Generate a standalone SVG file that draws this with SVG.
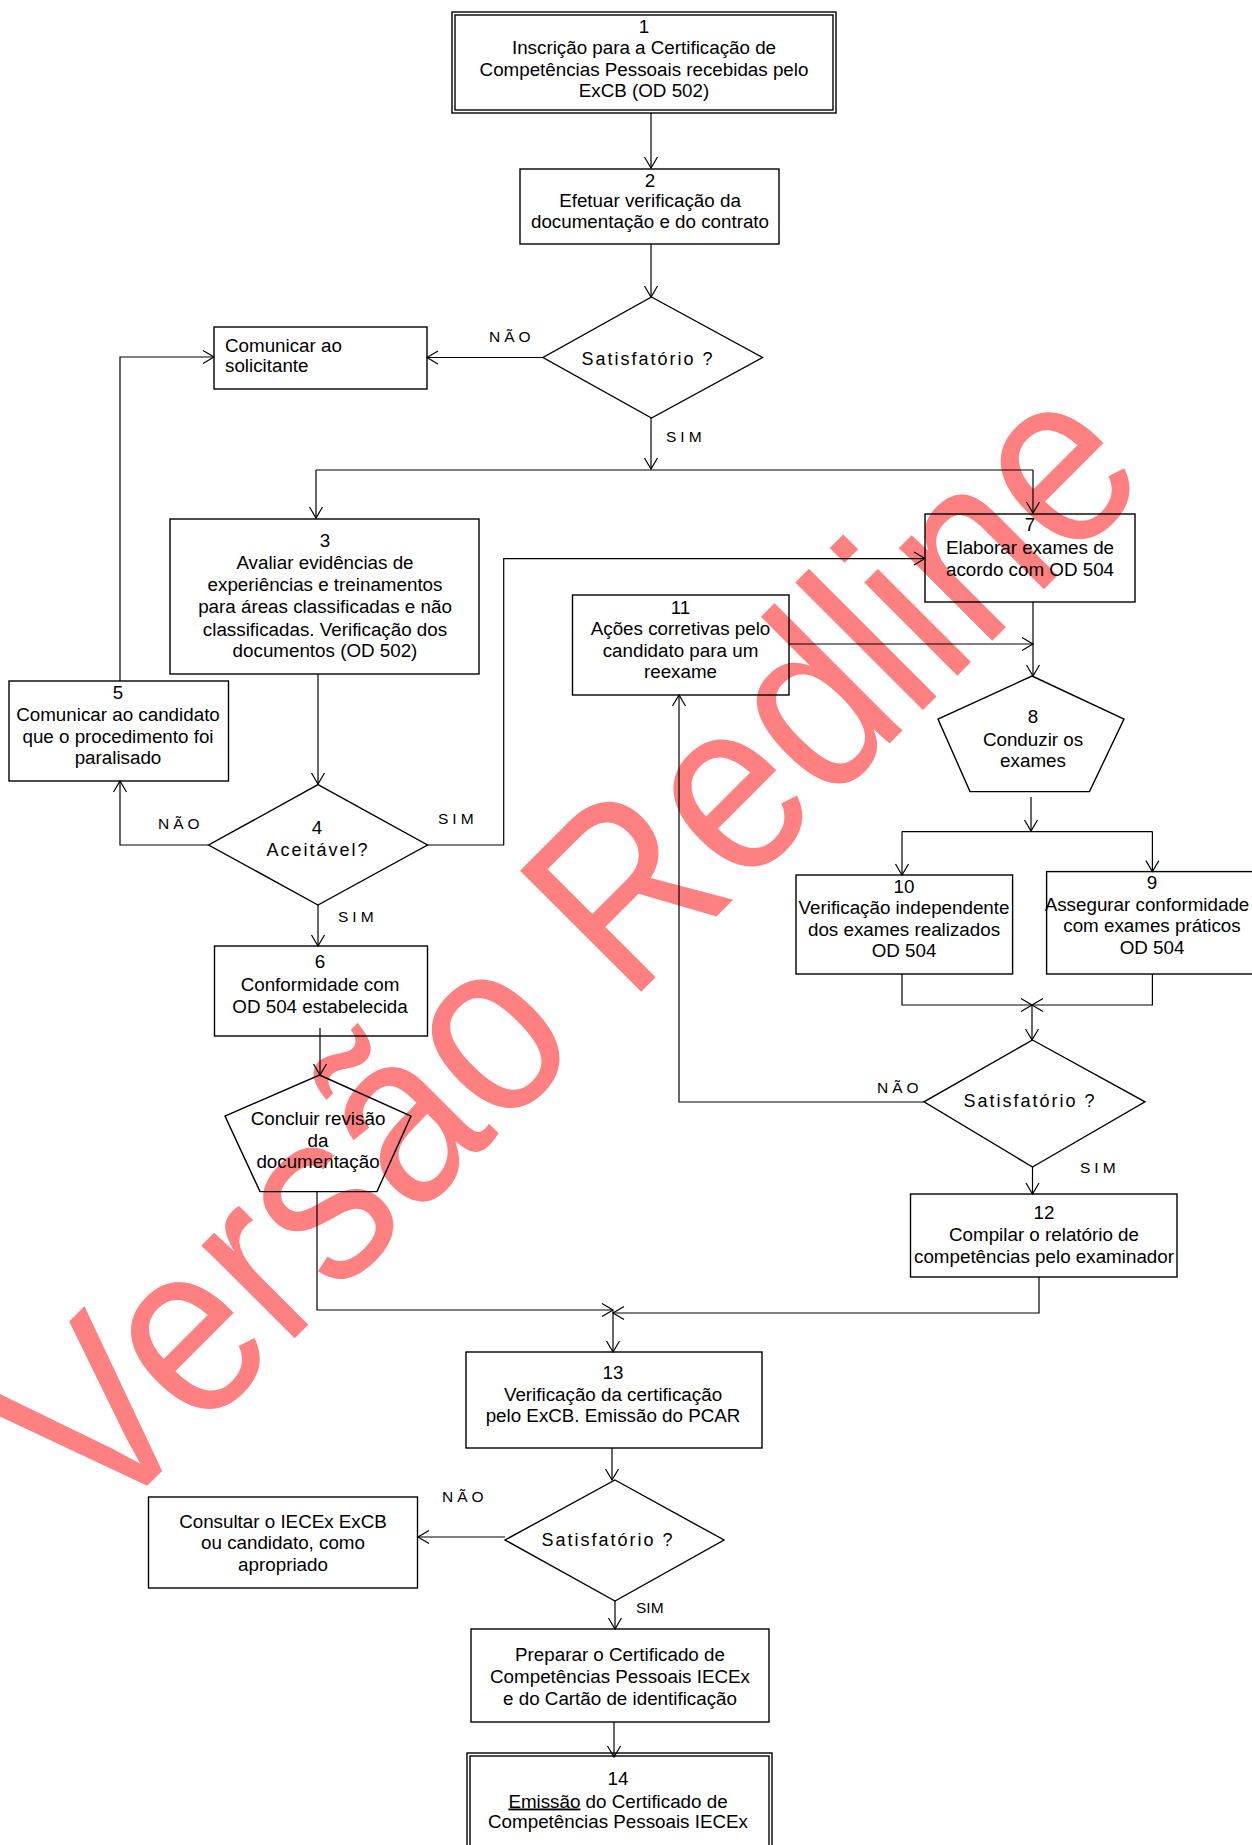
<svg xmlns="http://www.w3.org/2000/svg" width="1252" height="1845" viewBox="0 0 1252 1845">
<style>
.b{fill:none;stroke:#000;stroke-width:1.4}
.l{fill:none;stroke:#000;stroke-width:1.2}
text{font-family:"Liberation Sans",Arial,sans-serif;fill:#000}
.t{font-size:18.8px;text-anchor:middle}
.q{font-size:18px;letter-spacing:2px;text-anchor:middle}
.lb{font-size:15.5px;letter-spacing:4px}
.wm{font-size:249px;fill:#FF8080}
</style>
<defs>
<marker id="a" markerWidth="13" markerHeight="15" refX="11" refY="7" orient="auto" markerUnits="userSpaceOnUse" overflow="visible">
<path d="M0,0.5 L11,7 L0,13.5" fill="none" stroke="#000" stroke-width="1.2"/>
</marker>
</defs>
<rect width="1252" height="1845" fill="#fff"/>
<text class="wm" transform="translate(103,1530) rotate(-45) scale(0.88,1)">Versão Redline</text>

<g id="connectors" class="l">
<path class="l" d="M651,113 V168" marker-end="url(#a)"/>
<path class="l" d="M651,244 V297" marker-end="url(#a)"/>
<path class="l" d="M543,357.5 H427" marker-end="url(#a)"/>
<path class="l" d="M120,681 V357 H214" marker-end="url(#a)"/>
<path class="l" d="M651,418 V469" marker-end="url(#a)"/>
<path class="l" d="M316,470 H1033"/>
<path class="l" d="M316,470 V518" marker-end="url(#a)"/>
<path class="l" d="M1033,470 V513" marker-end="url(#a)"/>
<path class="l" d="M318,674 V784" marker-end="url(#a)"/>
<path class="l" d="M208.6,845 H120 V781" marker-end="url(#a)"/>
<path class="l" d="M427.5,845 H503.7 V558.6 H925" marker-end="url(#a)"/>
<path class="l" d="M318,905 V946" marker-end="url(#a)"/>
<path class="l" d="M320,1028 V1075" marker-end="url(#a)"/>
<path class="l" d="M317,1191.6 V1310 H613" marker-end="url(#a)"/>
<path class="l" d="M1039,1277 V1313 H613" marker-end="url(#a)"/>
<path class="l" d="M613,1311 V1352" marker-end="url(#a)"/>
<path class="l" d="M1033,602 V676" marker-end="url(#a)"/>
<path class="l" d="M789,644 H1033" marker-end="url(#a)"/>
<path class="l" d="M1031,797 V831" marker-end="url(#a)"/>
<path class="l" d="M902,831.6 H1152.4"/>
<path class="l" d="M902,831.6 V875" marker-end="url(#a)"/>
<path class="l" d="M1152.4,831.6 V871.6" marker-end="url(#a)"/>
<path class="l" d="M902,974 V1005 H1032" marker-end="url(#a)"/>
<path class="l" d="M1152.4,974 V1005 H1032" marker-end="url(#a)"/>
<path class="l" d="M1032,1005 V1040" marker-end="url(#a)"/>
<path class="l" d="M924,1102 H679 V695" marker-end="url(#a)"/>
<path class="l" d="M1032.5,1167 V1194" marker-end="url(#a)"/>
<path class="l" d="M612,1448 V1480" marker-end="url(#a)"/>
<path class="l" d="M505,1537 H418" marker-end="url(#a)"/>
<path class="l" d="M615,1601 V1629" marker-end="url(#a)"/>
<path class="l" d="M614,1722 V1757" marker-end="url(#a)"/>
</g>

<g id="labels">
<text class="lb" x="489" y="341.7">NÃO</text>
<text class="lb" x="666" y="441.7">SIM</text>
<text class="lb" x="158" y="829.3">NÃO</text>
<text class="lb" x="438" y="824.3">SIM</text>
<text class="lb" x="338" y="921.7">SIM</text>
<text class="lb" x="877" y="1092.7">NÃO</text>
<text class="lb" x="1080" y="1172.7">SIM</text>
<text class="lb" x="442" y="1501.7">NÃO</text>
<text class="lb" x="636" y="1612.7" style="letter-spacing:0">SIM</text>
</g>

<g id="n1">
<rect class="b" x="452" y="12" width="384" height="101"/>
<rect class="b" x="455" y="15" width="378" height="95"/>
<text class="t" x="644" y="32.7">1</text>
<text class="t" x="644" y="54">Inscrição para a Certificação de</text>
<text class="t" x="644" y="75.5">Competências Pessoais recebidas pelo</text>
<text class="t" x="644" y="97">ExCB (OD 502)</text>
</g>
<g id="n2">
<rect class="b" x="520" y="169" width="259" height="75"/>
<text class="t" x="650" y="187">2</text>
<text class="t" x="650" y="207">Efetuar verificação da</text>
<text class="t" x="650" y="228">documentação e do contrato</text>
</g>
<g id="d1">
<polygon class="b" points="651.5,297 762.5,357.5 651.5,418 543,357.5"/>
<text class="q" x="648" y="365">Satisfatório ?</text>
</g>
<g id="nc">
<rect class="b" x="214" y="327" width="213" height="62"/>
<text x="225" y="351.7" style="font-size:18.8px">Comunicar ao</text>
<text x="225" y="372.3" style="font-size:18.8px">solicitante</text>
</g>
<g id="n3">
<rect class="b" x="170" y="519" width="309" height="155"/>
<text class="t" x="325" y="547">3</text>
<text class="t" x="325" y="568.5">Avaliar evidências de</text>
<text class="t" x="325" y="591">experiências e treinamentos</text>
<text class="t" x="325" y="613">para áreas classificadas e não</text>
<text class="t" x="325" y="635.5">classificadas. Verificação dos</text>
<text class="t" x="325" y="657">documentos (OD 502)</text>
</g>
<g id="n7">
<rect class="b" x="925" y="514" width="210" height="88"/>
<text class="t" x="1030" y="531">7</text>
<text class="t" x="1030" y="554">Elaborar exames de</text>
<text class="t" x="1030" y="576">acordo com OD 504</text>
</g>
<g id="n11">
<rect class="b" x="572.5" y="595" width="216.5" height="100"/>
<text class="t" x="680.5" y="614">11</text>
<text class="t" x="680.5" y="635">Ações corretivas pelo</text>
<text class="t" x="680.5" y="656.5">candidato para um</text>
<text class="t" x="680.5" y="678">reexame</text>
</g>
<g id="n5">
<rect class="b" x="9" y="681" width="219.5" height="100"/>
<text class="t" x="118" y="699">5</text>
<text class="t" x="118" y="720.7">Comunicar ao candidato</text>
<text class="t" x="118" y="742.5">que o procedimento foi</text>
<text class="t" x="118" y="764">paralisado</text>
</g>
<g id="n8">
<polygon class="b" points="1032,676 1124,719 1089.5,791.6 970,791.6 938,719"/>
<text class="t" x="1033" y="723.3">8</text>
<text class="t" x="1033" y="746">Conduzir os</text>
<text class="t" x="1033" y="766.7">exames</text>
</g>
<g id="d4">
<polygon class="b" points="318,784.6 427.5,845 318,905 208.6,845"/>
<text class="t" x="317" y="834">4</text>
<text class="q" x="318" y="856">Aceitável?</text>
</g>
<g id="n10">
<rect class="b" x="796" y="875" width="216.6" height="99"/>
<text class="t" x="904" y="892.7">10</text>
<text class="t" x="904" y="914">Verificação independente</text>
<text class="t" x="904" y="935.5">dos exames realizados</text>
<text class="t" x="904" y="957">OD 504</text>
</g>
<g id="n9">
<rect class="b" x="1046.6" y="871.6" width="220" height="102.4"/>
<text class="t" x="1152" y="888.5">9</text>
<text class="t" x="1147" y="910.5">Assegurar conformidade</text>
<text class="t" x="1152" y="931.5">com exames práticos</text>
<text class="t" x="1152" y="954">OD 504</text>
</g>
<g id="n6">
<rect class="b" x="214.5" y="946" width="213" height="90"/>
<text class="t" x="320" y="967.7">6</text>
<text class="t" x="320" y="991">Conformidade com</text>
<text class="t" x="320" y="1013.3">OD 504 estabelecida</text>
</g>
<g id="nconcl">
<polygon class="b" points="319.5,1075 411,1116 377,1191.6 260,1191.6 225,1116"/>
<text class="t" x="318" y="1125">Concluir revisão</text>
<text class="t" x="318" y="1146.7">da</text>
<text class="t" x="318" y="1168.3">documentação</text>
</g>
<g id="d3">
<polygon class="b" points="1032.5,1040 1145,1101.8 1032.5,1167 924,1101.8"/>
<text class="q" x="1030" y="1107.3">Satisfatório ?</text>
</g>
<g id="n12">
<rect class="b" x="910.5" y="1194" width="266.5" height="83"/>
<text class="t" x="1044" y="1218.7">12</text>
<text class="t" x="1044" y="1240.7">Compilar o relatório de</text>
<text class="t" x="1044" y="1263.3">competências pelo examinador</text>
</g>
<g id="n13">
<rect class="b" x="466" y="1352" width="296" height="96"/>
<text class="t" x="613" y="1379">13</text>
<text class="t" x="613" y="1400.7">Verificação da certificação</text>
<text class="t" x="613" y="1421.7">pelo ExCB. Emissão do PCAR</text>
</g>
<g id="d5">
<polygon class="b" points="615,1480 724,1540 615,1601 505,1540"/>
<text class="q" x="608" y="1545.7">Satisfatório ?</text>
</g>
<g id="nconsult">
<rect class="b" x="148.5" y="1497" width="269" height="91"/>
<text class="t" x="283" y="1527.7">Consultar o IECEx ExCB</text>
<text class="t" x="283" y="1549">ou candidato, como</text>
<text class="t" x="283" y="1570.7">apropriado</text>
</g>
<g id="nprep">
<rect class="b" x="471" y="1629" width="298" height="93"/>
<text class="t" x="620" y="1660.7">Preparar o Certificado de</text>
<text class="t" x="620" y="1682.5">Competências Pessoais IECEx</text>
<text class="t" x="620" y="1705">e do Cartão de identificação</text>
</g>
<g id="n14">
<rect class="b" x="467" y="1753" width="305" height="110"/>
<rect class="b" x="470" y="1756" width="299" height="104"/>
<text class="t" x="618" y="1785">14</text>
<text class="t" x="618" y="1807.5"><tspan text-decoration="underline">Emissão</tspan> do Certificado de</text>
<text class="t" x="618" y="1828.3">Competências Pessoais IECEx</text>
</g>
</svg>
